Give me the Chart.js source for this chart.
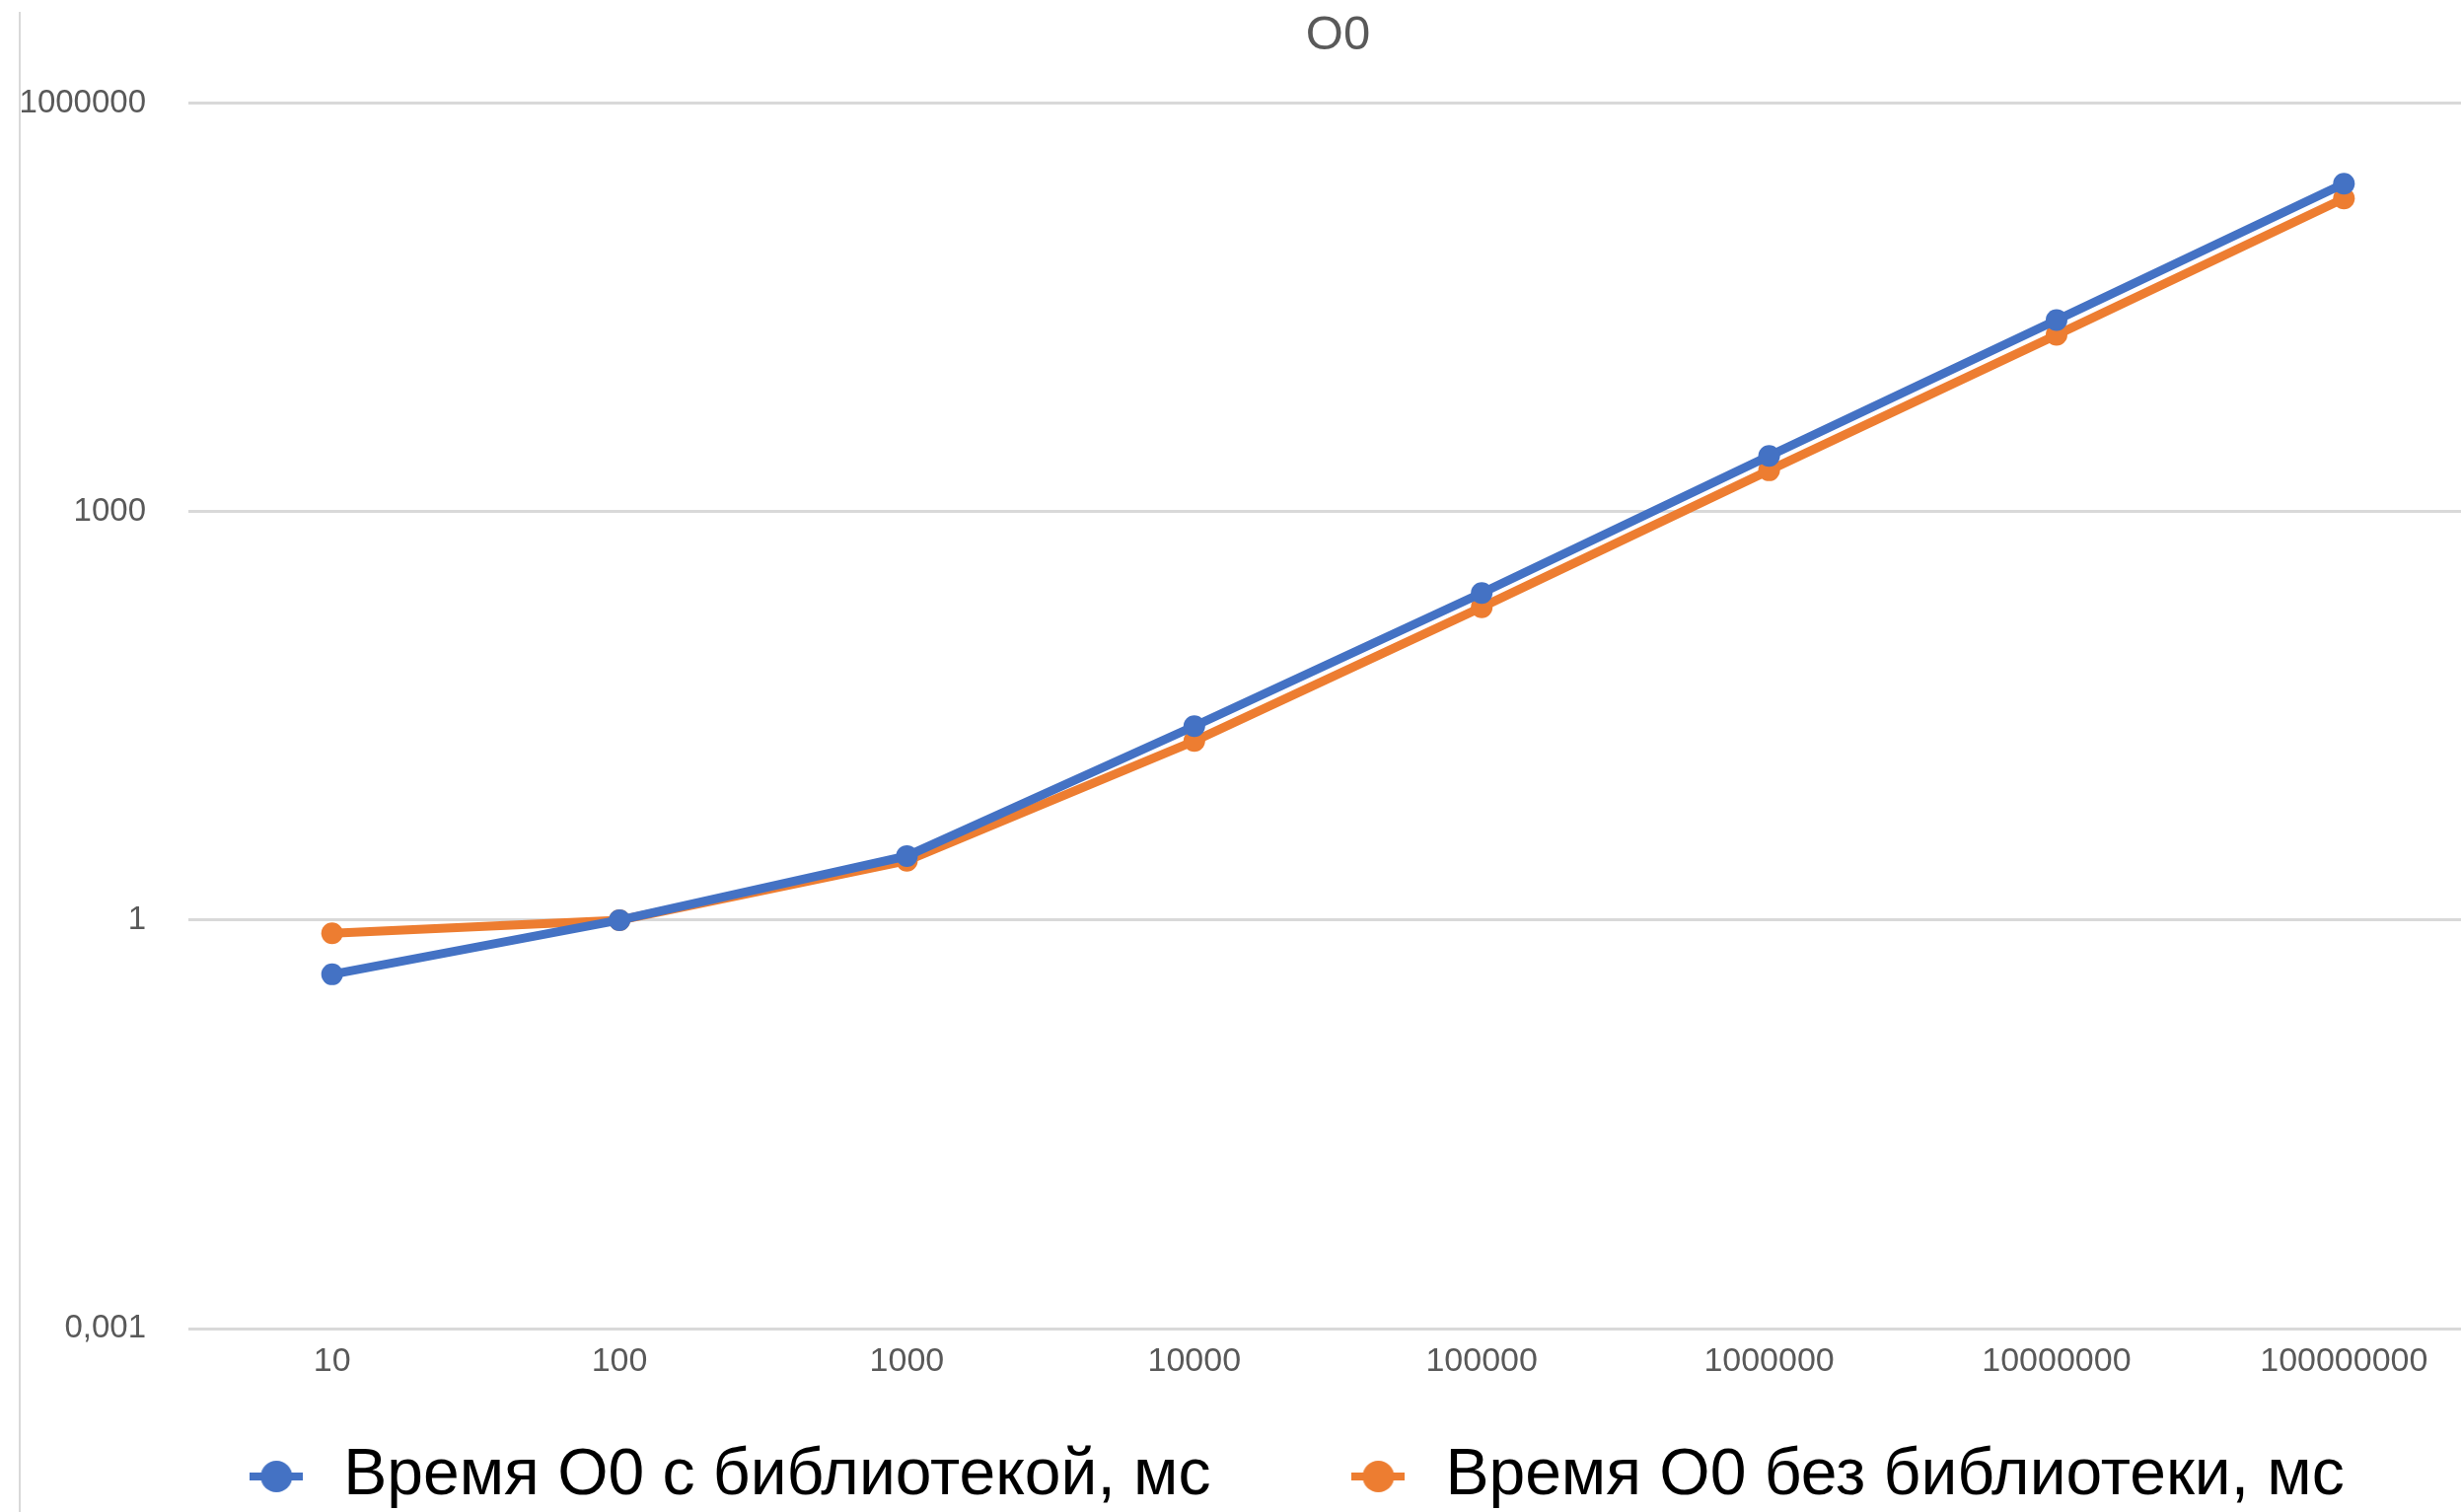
<!DOCTYPE html>
<html lang="ru">
<head>
<meta charset="UTF-8">
<title>O0</title>
<script src="https://cdn.jsdelivr.net/npm/chart.js"></script>
<style>
  html, body { margin: 0; padding: 0; background: #fff; overflow: hidden; }
  #wrap { position: relative; width: 2495px; height: 1533px; overflow: hidden; }
  #chart { position: absolute; left: 0; top: 0; }
  #edge { position: absolute; left: 19px; top: 12px; bottom: 0; width: 2px; background: #d9d9d9; }
</style>
</head>
<body>
<div id="wrap">
  <canvas id="chart" width="2533" height="1608"></canvas>
  <div id="edge"></div>
</div>
<script>
// N (x axis), time in ms
const categories = ['10', '100', '1000', '10000', '100000', '1000000', '10000000', '100000000'];
const withLibrary = [0.4, 1.0, 2.96, 26.6, 253, 2570, 25600, 257000];
const withoutLibrary = [0.8, 1.0, 2.73, 20.7, 199, 2015, 19900, 200000];
const yTicks = [0.001, 1, 1000, 1000000];

const blue = '#4472c4';
const orange = '#ed7d31';
const fontFamily = '"Liberation Sans", Arial, sans-serif';
const legendFont = 66;
const legendGap = 135;
const legendCenter = 1311;
const legendTextY = 1497;

// line + dot marker like in the excel legend
function legendMarker(color) {
  const c = document.createElement('canvas');
  c.width = 54;
  c.height = 34;
  const g = c.getContext('2d');
  g.strokeStyle = color;
  g.lineWidth = 8;
  g.beginPath();
  g.moveTo(0, 17);
  g.lineTo(54, 17);
  g.stroke();
  g.fillStyle = color;
  g.beginPath();
  g.arc(27, 17, 16, 0, Math.PI * 2);
  g.fill();
  return c;
}

const markers = [legendMarker(blue), legendMarker(orange)];

// the legend in the source sits left of the plot centre and close under the axis
const legendShift = {
  id: 'legendShift',
  afterLayout(chart) {
    const lg = chart.legend;
    lg.left = 2 * legendCenter - lg.right;
    lg.top = legendTextY - legendGap - legendFont / 2;
  }
};

const ctx = document.getElementById('chart').getContext('2d');
const chart = new Chart(ctx, {
  type: 'line',
  data: {
    labels: categories,
    datasets: [{
      label: 'Время O0 с библиотекой, мс',
      data: withLibrary,
      borderColor: blue,
      backgroundColor: blue,
      pointBackgroundColor: blue,
      borderWidth: 9,
      pointRadius: 11,
      pointBorderWidth: 0,
      tension: 0
    }, {
      label: 'Время O0 без библиотеки, мс',
      data: withoutLibrary,
      borderColor: orange,
      backgroundColor: orange,
      pointBackgroundColor: orange,
      borderWidth: 9,
      pointRadius: 11,
      pointBorderWidth: 0,
      tension: 0
    }]
  },
  plugins: [legendShift],
  options: {
    responsive: false,
    animation: false,
    events: [],
    layout: {
      padding: 0
    },
    plugins: {
      title: {
        display: true,
        text: 'O0',
        fullSize: false,
        color: '#595959',
        font: { family: fontFamily, size: 49, weight: 'normal' },
        padding: { top: 7, bottom: 39 }
      },
      legend: {
        position: 'bottom',
        labels: {
          usePointStyle: true,
          pointStyleWidth: 70,
          padding: legendGap,
          color: '#000',
          font: { family: fontFamily, size: legendFont },
          generateLabels: function (chart) {
            const items = Chart.defaults.plugins.legend.labels.generateLabels(chart);
            items.forEach((item, i) => { item.pointStyle = markers[i]; });
            return items;
          }
        }
      },
      tooltip: { enabled: false }
    },
    scales: {
      x: {
        type: 'category',
        offset: true,
        grid: { display: false },
        border: { display: false },
        ticks: {
          color: '#595959',
          padding: 5,
          maxRotation: 0,
          font: { family: fontFamily, size: 34 }
        },
        afterFit: function (scale) { scale.height = 50; }
      },
      y: {
        type: 'logarithmic',
        min: 0.001,
        max: 1000000,
        grid: { color: '#d9d9d9', lineWidth: 3, drawTicks: false },
        border: { display: false },
        ticks: {
          color: '#595959',
          padding: 43,
          font: { family: fontFamily, size: 33 },
          callback: function (value) { return String(value).replace('.', ','); }
        },
        afterBuildTicks: function (axis) {
          axis.ticks = yTicks.map(v => ({ value: v }));
        },
        afterFit: function (scale) { scale.width = 191; }
      }
    }
  }
});
</script>
</body>
</html>
